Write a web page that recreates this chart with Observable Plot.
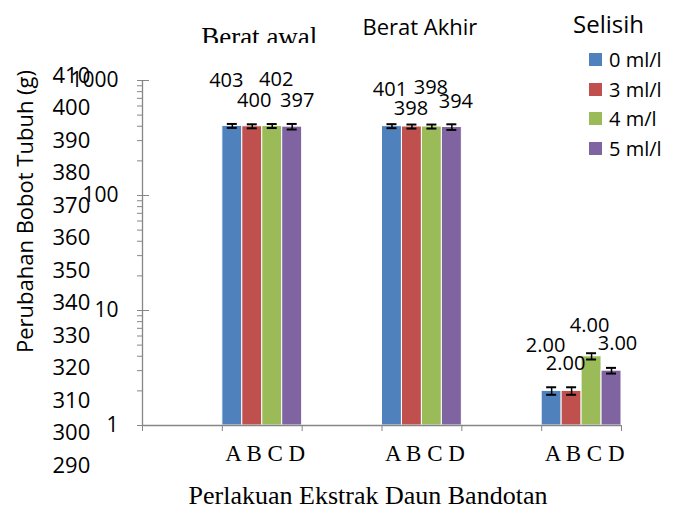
<!DOCTYPE html>
<html><head><meta charset="utf-8">
<script src="https://cdn.jsdelivr.net/npm/d3@7"></script>
<script src="https://cdn.jsdelivr.net/npm/@observablehq/plot@0.6"></script>
<style>
body{margin:0;background:#fff}
#wrap{position:relative;width:681px;height:510px;overflow:hidden}
#wrap svg{position:absolute;left:0;top:0}
#legend{position:absolute;left:589px;top:45px;font-family:'Open Sans',sans-serif;font-size:20px;color:#000}
#legend .item{display:flex;align-items:center;height:29.6px}
#legend .sw{width:13px;height:13px;margin-right:7px}
</style></head><body><div id="wrap"><div id="legend"></div></div>
<script>
// ---- data ----
const groups = ["Berat awal", "Berat Akhir", "Selisih"];
const series = ["0 ml/l", "3 ml/l", "4 m/l", "5 ml/l"];
const barKeys = ["A", "B", "C", "D"];
const beratAwal = [403, 400, 402, 397];
const beratAkhir = [401, 398, 398, 394];
const selisih = [2, 2, 4, 3];
const errAwal = [16, 16, 16, 22];
const errAkhir = [16, 16, 16, 22];
const errSelisih = [0.15, 0.15, 0.25, 0.17];
const logTicks = [1, 10, 100, 1000];
const linearTicks = [290, 300, 310, 320, 330, 340, 350, 360, 370, 380, 390, 400, 410];
const yTitle = "Perubahan Bobot Tubuh (g)";
const xTitle = "Perlakuan Ekstrak Daun Bandotan";

// ---- styles / layout ----
const colors = ["#4F81BD", "#C0504D", "#9BBB59", "#8064A2"];
const gray = "#868686";
const groupSlot = [1, 3, 5];           // category slot of each group on the 6-slot axis
const slotCount = 6;
const labelFormat = [d => String(d), d => String(d), d => d.toFixed(2)];
const labelNudge = [
  [[-6, -45], [2, -26], [4, -46], [5, -26]],
  [[-2, -37], [-1, -18], [-1, -39], [4, -25]],
  [[-6, -45], [-6, -27], [-2, -31], [6, -27]]
];
const titleStyle = [
  {font: "'Liberation Serif'", size: 27, dx: -3, dy: -35},
  {font: "'Open Sans'", size: 22, dx: -2, dy: -46},
  {font: "'Open Sans'", size: 24, dx: 27, dy: -48}
];

const values = [beratAwal, beratAkhir, selisih];
const errors = [errAwal, errAkhir, errSelisih];
const rows = [];
groups.forEach((g, gi) => values[gi].forEach((v, j) => rows.push({
  group: g, gi, j, key: barKeys[j], series: series[j], value: v, err: errors[gi][j],
  x1: groupSlot[gi] + j / 4, x2: groupSlot[gi] + (j + 1) / 4, xc: groupSlot[gi] + (j + 0.5) / 4,
  label: labelFormat[gi](v)
})));
const yMin = logTicks[0];
const minorTicks = logTicks.slice(0, -1).flatMap(t => [2,3,4,5,6,7,8,9].map(m => m * t));
const slotTicks = d3.range(0, slotCount + 1);

const labelMarks = rows.map(r => Plot.text([r], {
  x: "xc", y: "value", text: "label", dx: labelNudge[r.gi][r.j][0], dy: labelNudge[r.gi][r.j][1],
  fontSize: 20, lineAnchor: "middle", fill: "black"
}));
const titleMarks = groups.map((g, gi) => Plot.text([g], {
  x: () => groupSlot[gi] + 0.5, frameAnchor: "top", lineAnchor: "bottom",
  dx: titleStyle[gi].dx, dy: titleStyle[gi].dy, fontSize: titleStyle[gi].size,
  fontFamily: titleStyle[gi].font, fill: "black"
}));

const chart = Plot.plot({
  width: 681, height: 510,
  marginLeft: 142, marginRight: 60, marginTop: 80, marginBottom: 85,
  x: {type: "linear", domain: [0, slotCount], label: null},
  y: {type: "log", domain: [logTicks[0], logTicks[logTicks.length - 1]], label: null},
  color: {domain: series, range: colors},
  style: {fontFamily: "'Open Sans', sans-serif", background: "transparent", overflow: "visible"},
  marks: [
    Plot.rectY(rows, {x1: "x1", x2: "x2", y1: () => yMin, y2: "value", fill: "series", stroke: "white", strokeWidth: 1}),
    Plot.ruleX(rows, {x: "xc", y1: d => d.value - d.err, y2: d => d.value + d.err, stroke: "black", strokeWidth: 1.5}),
    Plot.ruleY(rows, {y: d => d.value + d.err, x1: "xc", x2: "xc", insetLeft: -5, insetRight: -5, stroke: "black", strokeWidth: 2}),
    Plot.ruleY(rows, {y: d => d.value - d.err, x1: "xc", x2: "xc", insetLeft: -5, insetRight: -5, stroke: "black", strokeWidth: 2}),
    Plot.ruleX([0], {stroke: gray, strokeWidth: 1.3}),
    Plot.ruleY([yMin], {stroke: gray, strokeWidth: 1.3}),
    Plot.axisY({ticks: minorTicks, tickSize: 5, tickFormat: () => "", stroke: gray, label: null}),
    Plot.axisY({ticks: logTicks, tickSize: 12, dx: 7, tickFormat: () => "", stroke: gray, label: null}),
    Plot.axisY({ticks: logTicks, tickSize: 0, tickPadding: 24, tickFormat: d => String(d), fontSize: 21, fill: "black", label: null}),
    Plot.axisX({ticks: slotTicks, tickSize: 6, tickFormat: () => "", stroke: gray, label: null}),
    Plot.text(groupSlot, {x: d => d + 0.5, text: () => barKeys.join(" "), frameAnchor: "bottom", lineAnchor: "bottom",
      dy: 35, dx: 3, fontSize: 23, fontFamily: "'Liberation Serif'", fill: "black"}),
    Plot.text([xTitle], {frameAnchor: "bottom", lineAnchor: "bottom", dy: 78, dx: -14, fontSize: 26, fontFamily: "'Liberation Serif'", fill: "black"}),
    ...labelMarks,
    ...titleMarks
  ]
});

// clip the first group title (its lower part is cut off in the original)
const svg = d3.select(chart);
svg.append("defs").append("clipPath").attr("id", "clipTitle0")
  .append("rect").attr("x", 0).attr("y", 0).attr("width", 681).attr("height", 43);
const t0 = svg.selectAll("text").filter(function() { return this.textContent === groups[0]; }).node();
if (t0) {
  const holder = svg.append("g").attr("clip-path", "url(#clipTitle0)");
  holder.node().appendChild(t0.parentNode);
}

// overlay: linear value labels (second scale)
const overlay = Plot.plot({
  width: 681, height: 510,
  marginLeft: 52, marginRight: 0, marginTop: 75, marginBottom: 45,
  y: {type: "linear", domain: [linearTicks[0], linearTicks[linearTicks.length - 1]], axis: null},
  style: {fontFamily: "'Open Sans', sans-serif", background: "transparent"},
  marks: [
    Plot.text(linearTicks, {y: d => d, text: d => String(d), frameAnchor: "left", textAnchor: "start", lineAnchor: "middle", fontSize: 22, fill: "black"}),
    Plot.text([yTitle], {frameAnchor: "left", textAnchor: "middle", dx: -27, dy: -59, rotate: -90, fontSize: 22, lineAnchor: "middle", fill: "black"})
  ]
});

const wrap = document.getElementById("wrap");
wrap.insertBefore(overlay, wrap.firstChild);
wrap.insertBefore(chart, wrap.firstChild);

const legend = document.getElementById("legend");
series.forEach((s, i) => {
  const it = document.createElement("div"); it.className = "item";
  const sw = document.createElement("div"); sw.className = "sw"; sw.style.background = colors[i];
  const tx = document.createElement("span"); tx.textContent = s;
  it.appendChild(sw); it.appendChild(tx); legend.appendChild(it);
});
</script></body></html>
